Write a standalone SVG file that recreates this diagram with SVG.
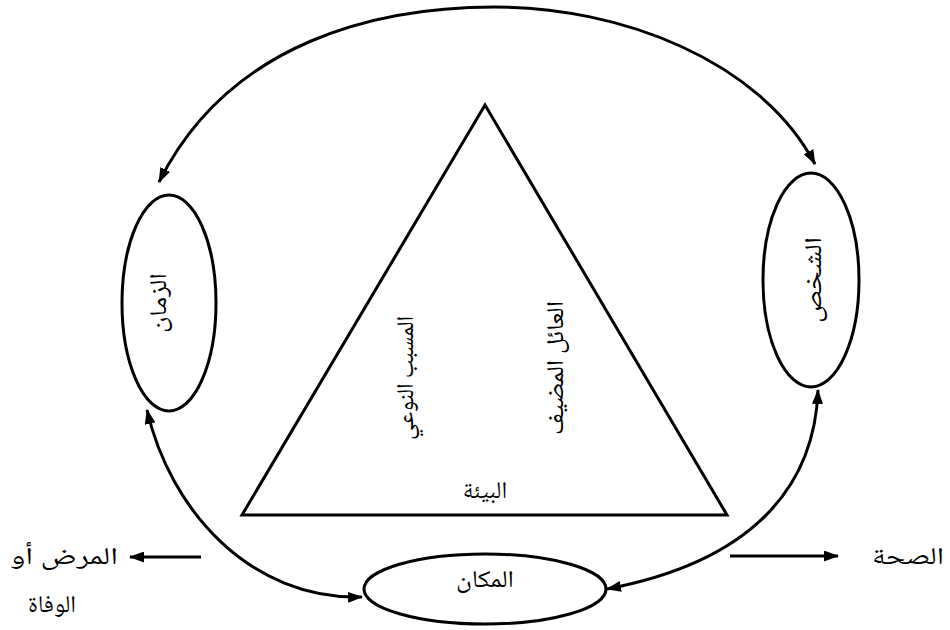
<svg xmlns="http://www.w3.org/2000/svg" width="950" height="630" viewBox="0 0 950 630">
  <style>
    .shape { fill: none; stroke: #000; stroke-width: 3; }
    .conn { fill: none; stroke: #000; stroke-width: 3; }
    .lbl { font-family: "Noto Naskh Arabic", "Noto Sans Arabic", "DejaVu Sans", serif; font-size: 24px; fill: #000; text-anchor: middle; direction: rtl; }
  </style>
  <defs>
    <marker id="ah" viewBox="0 0 15 11" refX="14" refY="5.5" markerWidth="15" markerHeight="11" markerUnits="userSpaceOnUse" orient="auto-start-reverse">
      <path d="M0,0 L15,5.5 L0,11 Z" fill="#000"/>
    </marker>
  </defs>
  <rect width="950" height="630" fill="#fff"/>

  <g id="triangle">
    <polygon class="shape" points="485,105 242,515 727,515"/>
    <text class="lbl" transform="translate(407,378) rotate(-90)" dominant-baseline="central" textLength="124" lengthAdjust="spacingAndGlyphs">المسبب النوعي</text>
    <text class="lbl" transform="translate(557,368) rotate(-90)" dominant-baseline="central" textLength="134" lengthAdjust="spacingAndGlyphs">العائل المضيف</text>
    <text class="lbl" x="485" y="498">البيئة</text>
  </g>

  <g id="time">
    <ellipse class="shape" cx="169" cy="303" rx="47" ry="108"/>
    <text class="lbl" transform="translate(160,303) rotate(-90)" dominant-baseline="central" textLength="60" lengthAdjust="spacingAndGlyphs">الزمان</text>
  </g>

  <g id="person">
    <ellipse class="shape" cx="811" cy="280" rx="48" ry="107"/>
    <text class="lbl" transform="translate(815,280) rotate(-90)" dominant-baseline="central" textLength="86" lengthAdjust="spacingAndGlyphs">الشخص</text>
  </g>

  <g id="place">
    <ellipse class="shape" cx="485" cy="589" rx="121" ry="35"/>
    <text class="lbl" x="485" y="587" textLength="58" lengthAdjust="spacingAndGlyphs">المكان</text>
  </g>

  <g id="disease">
    <text class="lbl" x="118" y="564" style="text-anchor:start" textLength="108" lengthAdjust="spacingAndGlyphs">المرض أو</text>
    <text class="lbl" x="52" y="612">الوفاة</text>
  </g>

  <g id="health">
    <text class="lbl" x="908" y="564" textLength="72" lengthAdjust="spacingAndGlyphs">الصحة</text>
  </g>

  <g id="connectors">
    <path class="conn" d="M159,182 C230,40 380,7 495,7 C620,7 760,60 815,164" marker-start="url(#ah)" marker-end="url(#ah)"/>
    <path class="conn" d="M147,410 C170,510 250,600 362,597" marker-start="url(#ah)" marker-end="url(#ah)"/>
    <path class="conn" d="M818,390 C815,480 760,560 607,589" marker-start="url(#ah)" marker-end="url(#ah)"/>
    <path class="conn" d="M201,557 L130,557" marker-end="url(#ah)"/>
    <path class="conn" d="M730,556 L838,556" marker-end="url(#ah)"/>
  </g>
</svg>
